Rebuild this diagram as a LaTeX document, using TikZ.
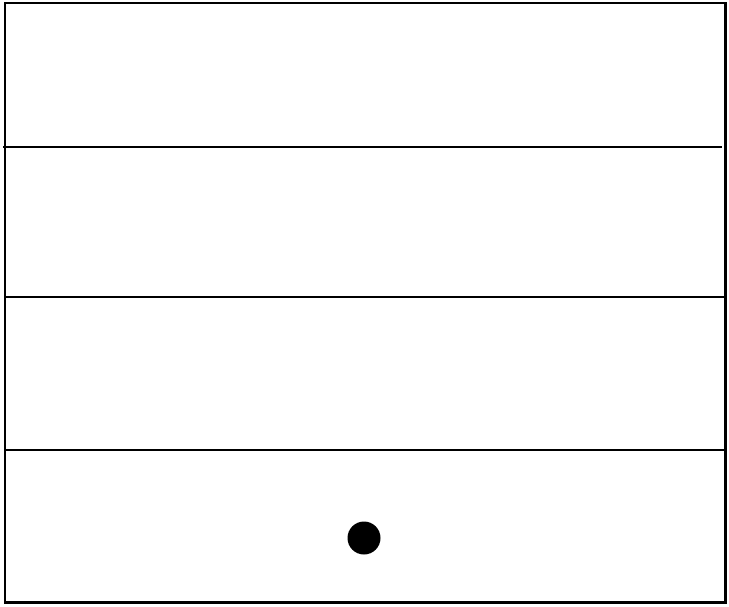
\documentclass[tikz,border=0pt]{standalone}
\begin{document}
\begin{tikzpicture}[x=1pt,y=-1pt,
  rule/.style={line width=2.6pt,black},
  dotmark/.style={circle,fill=black,inner sep=0pt,minimum size=33pt}]
\useasboundingbox (0,0) rectangle (729,606);
\draw[rule] (5,3) rectangle (725.5,602.5);
\draw[rule] (3,147) -- (722,147);
\draw[rule] (5,297) -- (725.5,297);
\draw[rule] (5,450) -- (725.5,450);
\node[dotmark] (dot) at (364,538) {};
\end{tikzpicture}
\end{document}
